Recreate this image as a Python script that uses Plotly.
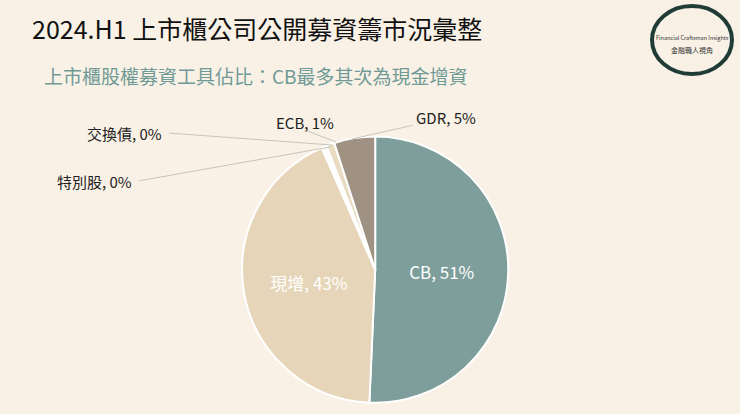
import plotly.graph_objects as go

labels = ["CB", "現增", "特別股", "交換債", "ECB", "GDR"]
values = [51, 43, 0.3, 0.3, 1, 5]
pct_text = ["51%", "43%", "0%", "0%", "1%", "5%"]
colors = ["#7d9e9b", "#e6d5b8", "#ede2cc", "#efe5d2", "#e9dcc3", "#9f9282"]

BG = "#f9f1e6"
FONT = "Noto Sans CJK TC"

texts = [f"{l}, {p}" if i < 2 else "" for i, (l, p) in enumerate(zip(labels, pct_text))]

fig = go.Figure(go.Pie(
    labels=labels, values=values, sort=False, direction="clockwise", rotation=0,
    text=texts, textinfo="text", textposition="inside", insidetextorientation="horizontal",
    marker=dict(colors=colors, line=dict(color="white", width=2)),
    textfont=dict(color="white", size=17, family=FONT),
    domain=dict(x=[0.327, 0.687], y=[0.027, 0.670]),
    showlegend=False, hoverinfo="label+percent",
))

small = [
    (2, 138, 181, 330, 147),
    (3, 168, 133, 332, 145),
    (4, 305, 130, 336, 142),
    (5, 414, 125, 352, 139),
]
for i, lx, ly, ax_, ay_ in small:
    fig.add_annotation(x=ax_, y=ay_, xref="x", yref="y", ax=lx, ay=ly, axref="x", ayref="y",
                       text="", showarrow=True, arrowhead=0, arrowwidth=1, arrowcolor="#c8c3ba")
    anchor = "right" if i < 4 else ("center" if i == 4 else "left")
    fig.add_annotation(x=lx + (-4 if i < 4 else 0), y=ly - (8 if i >= 4 else 0), xref="x", yref="y",
                       text=f"{labels[i]}, {pct_text[i]}", showarrow=False, xanchor=anchor,
                       font=dict(size=15, family=FONT, color="#222"))

fig.add_annotation(x=30, y=28, xref="x", yref="y", text="2024.H1 上市櫃公司公開募資籌市況彙整",
                   showarrow=False, xanchor="left", font=dict(size=25, family=FONT, color="#111"))
fig.add_annotation(x=42, y=75, xref="x", yref="y", text="上市櫃股權募資工具佔比：CB最多其次為現金增資",
                   showarrow=False, xanchor="left", font=dict(size=19, family=FONT, color="#6f9a95"))

fig.add_shape(type="circle", x0=652, y0=6, x1=732, y1=74, xref="x", yref="y",
              line=dict(color="#1f3d36", width=4))
fig.add_annotation(x=692, y=38, xref="x", yref="y", text="Financial Craftsman Insights",
                   showarrow=False, font=dict(size=5.5, family=FONT, color="#333"))
fig.add_annotation(x=692, y=50, xref="x", yref="y", text="金融職人視角",
                   showarrow=False, font=dict(size=7, family=FONT, color="#333"))

fig.update_layout(
    width=740, height=414, margin=dict(l=0, r=0, t=0, b=0),
    paper_bgcolor=BG, plot_bgcolor=BG,
    xaxis=dict(range=[0, 740], visible=False, fixedrange=True),
    yaxis=dict(range=[414, 0], visible=False, fixedrange=True),
)
fig.write_html("out.html", config={"displayModeBar": False},
               post_script="document.body.style.margin='0';document.body.style.overflow='hidden';")
